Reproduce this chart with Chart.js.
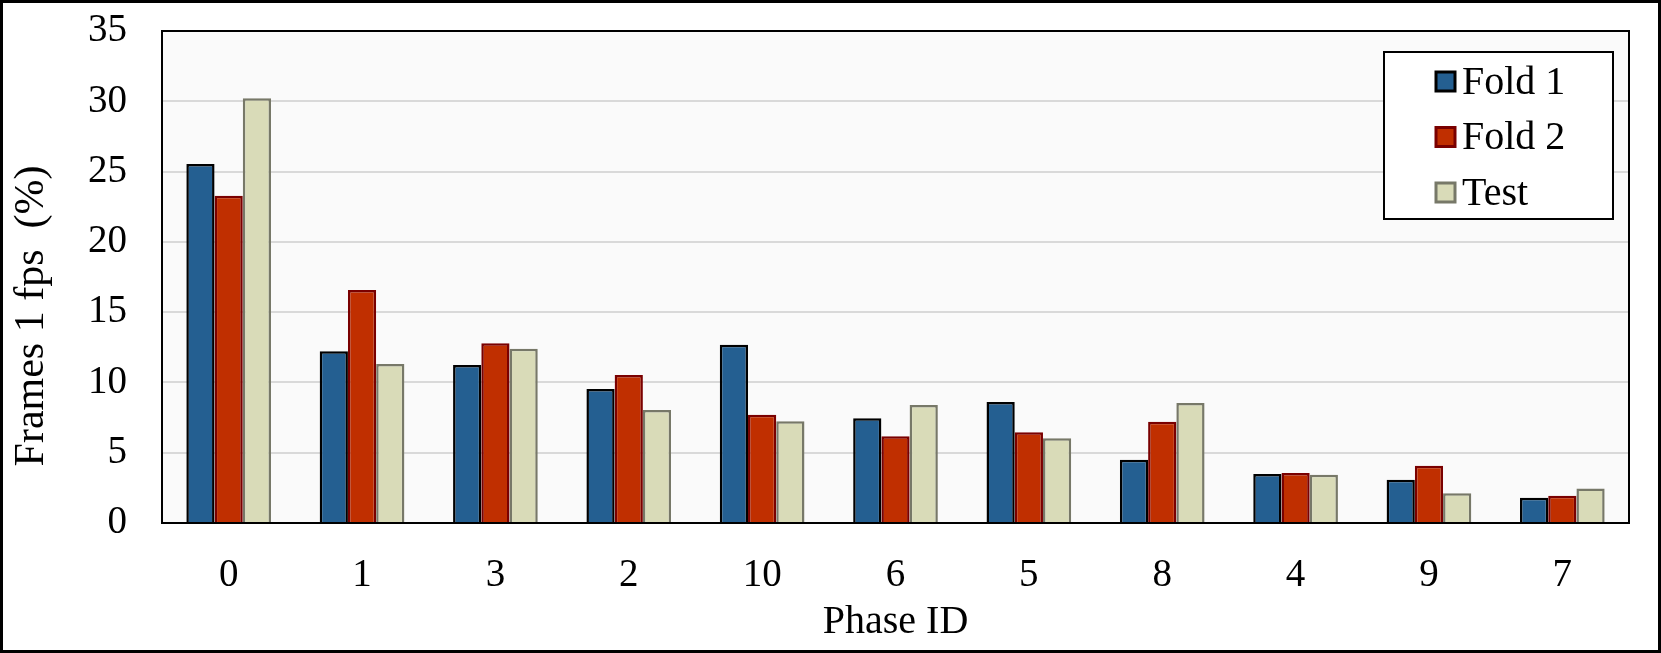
<!DOCTYPE html>
<html><head><meta charset="utf-8">
<script src="https://cdn.jsdelivr.net/npm/chart.js@4.4.0/dist/chart.umd.min.js"></script>
<style>html,body{margin:0;padding:0;background:#fff}#wrap{width:1661px;height:653px;position:relative}canvas{display:block}</style>
</head><body><div id="wrap"><canvas id="c" width="1661" height="653" style="width:1661px;height:653px"></canvas></div>
<script>
const phaseIds = ['0','1','3','2','10','6','5','8','4','9','7'];
const fold1 = [25.54,12.21,11.24,9.53,12.68,7.45,8.61,4.50,3.49,3.08,1.79];
const fold2 = [23.28,16.58,12.78,10.53,7.70,6.17,6.45,7.21,3.56,4.08,1.93];
const testVals = [30.21,11.31,12.40,8.04,7.23,8.39,6.03,8.54,3.44,2.11,2.45];
const seriesNames = ['Fold 1','Fold 2','Test'];
const yTitle = 'Frames 1 fps  (%)';
const xTitle = 'Phase ID';
const yMin = 0, yMax = 35, yStep = 5;

const FONT = "'Liberation Serif', 'Times New Roman', serif";

const framePlugin = {
  id: 'frame',
  beforeDraw(chart) {
    const {ctx, chartArea: a} = chart;
    ctx.save();
    ctx.fillStyle = '#fff';
    ctx.fillRect(0, 0, chart.width, chart.height);
    ctx.fillStyle = '#fafafa';
    ctx.fillRect(a.left, a.top, a.right - a.left, a.bottom - a.top);
    ctx.restore();
  },
  afterDatasetsDraw(chart) {
    const {ctx, chartArea: a} = chart;
    ctx.save();
    ctx.strokeStyle = '#000';
    ctx.lineWidth = 2;
    ctx.strokeRect(a.left, a.top, a.right - a.left, a.bottom - a.top);
    ctx.lineWidth = 3;
    ctx.strokeRect(1.5, 1.5, chart.width - 3, chart.height - 3);
    ctx.restore();
  },
  afterDraw(chart) {
    const {ctx} = chart;
    ctx.save();
    ctx.translate(32, 316);
    ctx.rotate(-Math.PI / 2);
    ctx.fillStyle = '#000';
    ctx.font = '42px ' + FONT;
    ctx.textAlign = 'center';
    ctx.textBaseline = 'middle';
    ctx.fillText(yTitle, 0, 0);
    ctx.restore();

    const bx = 1384, by = 52, bw = 229, bh = 167;
    ctx.save();
    ctx.fillStyle = '#fff';
    ctx.fillRect(bx, by, bw, bh);
    ctx.strokeStyle = '#000';
    ctx.lineWidth = 2;
    ctx.strokeRect(bx, by, bw, bh);
    const rows = [81, 136.5, 192];
    chart.data.datasets.forEach((ds, i) => {
      const cy = rows[i];
      ctx.fillStyle = ds.backgroundColor;
      ctx.fillRect(1436, cy - 9, 19, 19);
      ctx.strokeStyle = ds.borderColor;
      ctx.lineWidth = 3;
      ctx.strokeRect(1436, cy - 9, 19, 19);
      ctx.fillStyle = '#000';
      ctx.font = '40px ' + FONT;
      ctx.textBaseline = 'middle';
      ctx.textAlign = 'left';
      ctx.fillText(ds.label, 1462, cy + 2);
    });
    ctx.restore();
  }
};

new Chart(document.getElementById('c'), {
  type: 'bar',
  data: {
    labels: phaseIds,
    datasets: [
      {label: seriesNames[0], data: fold1, backgroundColor: '#245f91', borderColor: '#000000', borderWidth: 2.5},
      {label: seriesNames[1], data: fold2, backgroundColor: '#c02f00', borderColor: '#7a0000', borderWidth: 2.5},
      {label: seriesNames[2], data: testVals, backgroundColor: '#d9dbb8', borderColor: '#777868', borderWidth: 2.5}
    ]
  },
  options: {
    responsive: false,
    animation: false,
    devicePixelRatio: 1,
    layout: {padding: {top: 31, right: 32, left: 0, bottom: 0}},
    datasets: {bar: {barPercentage: 1, categoryPercentage: 0.635, borderSkipped: 'bottom'}},
    plugins: {legend: {display: false}, tooltip: {enabled: false}},
    scales: {
      x: {
        grid: {display: false, drawTicks: false},
        border: {display: false},
        ticks: {color: '#000', font: {family: FONT, size: 39}, padding: 29},
        title: {display: true, text: xTitle, color: '#000', font: {family: FONT, size: 40}, padding: {top: 0, bottom: 7}},
        afterFit(s) { s.height = 130; s.paddingLeft = 0; s.paddingRight = 0; }
      },
      y: {
        min: yMin, max: yMax,
        grid: {color: '#d9d9d9', lineWidth: 2, drawTicks: false},
        border: {display: false},
        ticks: {stepSize: yStep, color: '#000', font: {family: FONT, size: 39}, padding: 35},
        title: {display: false, text: yTitle},
        afterFit(s) { s.width = 162; s.paddingTop = 0; s.paddingBottom = 0; }
      }
    }
  },
  plugins: [framePlugin]
});
</script></body></html>
